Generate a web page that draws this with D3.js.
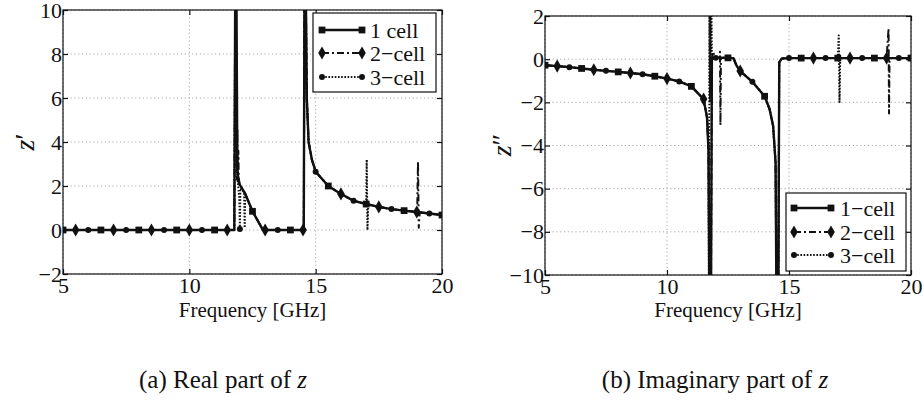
<!DOCTYPE html>
<html><head><meta charset="utf-8">
<script src="https://cdn.jsdelivr.net/npm/d3@7"></script>
<style>body{margin:0;background:#fff}svg{display:block}text{font-family:'Liberation Serif','Times New Roman',serif}</style>
</head><body><svg id="c" width="924" height="400"></svg>
<script>
// ---------- data ----------
const xTicks = [5, 10, 15, 20];
const realTicks = [-2, 0, 2, 4, 6, 8, 10];
const imagTicks = [-10, -8, -6, -4, -2, 0, 2];
const legendReal = ["1 cell", "2\u2212cell", "3\u2212cell"];
const legendImag = ["1\u2212cell", "2\u2212cell", "3\u2212cell"];
const xLabel = "Frequency [GHz]";

// real part z'  [frequency GHz, value]
const real1 = [[5,0],[5.5,0],[6,0],[6.5,0],[7,0],[7.5,0],[8,0],[8.5,0],[9,0],[9.5,0],[10,0],[10.5,0],[11,0],[11.5,0],[11.78,0],[11.82,12],[11.86,12],[11.9,2.6],[12,2.05],[12.2,1.68],[12.5,0.85],[12.9,0.03],[13,0],[13.5,0],[14,0],[14.5,0],[14.53,0.15],[14.56,12],[14.6,12],[14.65,6],[14.72,4],[14.85,3.2],[15,2.65],[15.5,2.0],[16,1.64],[16.5,1.33],[17,1.18],[17.5,1.05],[18,0.95],[18.5,0.88],[19,0.82],[19.5,0.75],[20,0.68]];
const real2 = [[5,0],[5.5,0],[6,0],[6.5,0],[7,0],[7.5,0],[8,0],[8.5,0],[9,0],[9.5,0],[10,0],[10.5,0],[11,0],[11.5,0],[11.78,0],[11.82,12],[11.86,4.9],[11.88,2.3],[11.9,4.6],[11.92,2.2],[11.94,3.6],[11.96,2.1],[12,2.05],[12.2,1.68],[12.5,0.85],[12.9,0.03],[13,0],[13.5,0],[14,0],[14.5,0],[14.53,0.15],[14.56,12],[14.6,12],[14.65,6],[14.72,4],[14.85,3.2],[15,2.65],[15.5,2.0],[16,1.64],[16.5,1.33],[17,1.18],[17.5,1.05],[18,0.95],[18.5,0.88],[19,0.82],[19.02,1.0],[19.05,3.1],[19.08,0.1],[19.11,0.7],[19.15,0.8],[19.5,0.75],[20,0.68]];
const real3 = [[5,0],[5.5,0],[6,0],[6.5,0],[7,0],[7.5,0],[8,0],[8.5,0],[9,0],[9.5,0],[10,0],[10.5,0],[11,0],[11.5,0],[11.78,0],[11.82,12],[11.86,3.0],[11.92,2.2],[11.98,1.4],[12,0.05],[12.02,1.9],[12.1,1.8],[12.17,1.7],[12.19,0.1],[12.21,1.62],[12.5,0.85],[12.9,0.03],[13,0],[13.5,0],[14,0],[14.5,0],[14.53,0.15],[14.56,12],[14.6,12],[14.65,6],[14.72,4],[14.85,3.2],[15,2.65],[15.5,2.0],[16,1.64],[16.5,1.33],[17,1.18],[17.02,3.2],[17.05,0],[17.08,1.15],[17.5,1.05],[18,0.95],[18.5,0.88],[19,0.82],[19.5,0.75],[20,0.68]];

// imaginary part z''
const imag1 = [[5,-0.28],[5.5,-0.32],[6,-0.37],[6.5,-0.43],[7,-0.49],[7.5,-0.54],[8,-0.59],[8.5,-0.64],[9,-0.7],[9.5,-0.79],[10,-0.9],[10.5,-1.03],[11,-1.26],[11.5,-1.85],[11.64,-2.7],[11.7,-4.2],[11.74,-12],[11.8,-12],[11.84,0.03],[12,0.06],[12.5,0.06],[12.72,0.05],[12.85,-0.3],[13,-0.55],[13.5,-1.05],[14,-1.72],[14.2,-2.3],[14.35,-3.1],[14.45,-4.8],[14.49,-12],[14.56,-12],[14.6,-0.15],[14.7,0.03],[15,0.05],[15.5,0.05],[16,0.05],[16.5,0.05],[17,0.05],[17.5,0.05],[18,0.05],[18.5,0.05],[19,0.05],[19.5,0.05],[20,0.05]];
const imag2 = [[5,-0.28],[5.5,-0.32],[6,-0.37],[6.5,-0.43],[7,-0.49],[7.5,-0.54],[8,-0.59],[8.5,-0.64],[9,-0.7],[9.5,-0.79],[10,-0.9],[10.5,-1.03],[11,-1.26],[11.5,-1.85],[11.64,-2.7],[11.7,-4.2],[11.74,-12],[11.8,-12],[11.84,0.03],[11.9,0.35],[11.95,0.05],[12,0.06],[12.15,0.06],[12.17,0.34],[12.19,-3.06],[12.21,0.06],[12.5,0.06],[12.72,0.05],[12.85,-0.3],[13,-0.55],[13.5,-1.05],[14,-1.72],[14.2,-2.3],[14.35,-3.1],[14.45,-4.8],[14.49,-12],[14.56,-12],[14.6,-0.15],[14.7,0.03],[15,0.05],[15.5,0.05],[16,0.05],[16.5,0.05],[17,0.05],[17.5,0.05],[18,0.05],[18.5,0.05],[19,0.05],[19.08,1.42],[19.1,-2.52],[19.12,0.05],[19.5,0.05],[20,0.05]];
const imag3 = [[5,-0.28],[5.5,-0.32],[6,-0.37],[6.5,-0.43],[7,-0.49],[7.5,-0.54],[8,-0.59],[8.5,-0.64],[9,-0.7],[9.5,-0.79],[10,-0.9],[10.5,-1.03],[11,-1.26],[11.5,-1.85],[11.64,-2.7],[11.7,-4.2],[11.72,-12],[11.74,2.6],[11.76,-2.0],[11.78,2.6],[11.8,-1.5],[11.82,2.6],[11.84,0.03],[12,0.06],[12.5,0.06],[12.72,0.05],[12.85,-0.3],[13,-0.55],[13.5,-1.05],[14,-1.72],[14.2,-2.3],[14.35,-3.1],[14.45,-4.8],[14.49,-12],[14.56,-12],[14.6,-0.15],[14.7,0.03],[15,0.05],[15.5,0.05],[16,0.05],[16.5,0.05],[17,0.05],[17.04,1.1],[17.07,-1.98],[17.1,0.05],[17.5,0.05],[18,0.05],[18.5,0.05],[19,0.05],[19.5,0.05],[20,0.05]];

// ---------- drawing ----------
const FONT = "'Liberation Serif','Times New Roman',serif";
const INK = "#111";
const svg = d3.select("#c");
const styles = [
  {w: 2.4, dash: null, sym: d3.symbolSquare, size: 46, phase: 1},
  {w: 2.0, dash: "7,3,2,3", sym: d3.symbolDiamond, size: 50, phase: 2},
  {w: 2.0, dash: "1.6,1.6", sym: d3.symbolCircle, size: 28, phase: 0}
];
function isMarker(f, i) {
  const k = f * 2, r = Math.round(k);
  return Math.abs(k - r) < 1e-6 && (r % 3) === styles[i].phase;
}
function markers(g, pts, i) {
  const s = styles[i];
  g.append("g").selectAll("path").data(pts).join("path")
    .attr("transform", d => `translate(${d[0]},${d[1]})`)
    .attr("d", d3.symbol().type(s.sym).size(s.size)())
    .attr("fill", INK);
}

function panel(p) {
  const x = d3.scaleLinear().domain([5, 20]).range([p.l, p.r]);
  const y = d3.scaleLinear().domain(p.yd).range([p.b, p.t]);
  const g = svg.append("g");
  svg.append("clipPath").attr("id", "clip" + p.id).append("rect")
    .attr("x", p.l).attr("y", p.t).attr("width", p.r - p.l).attr("height", p.b - p.t);

  const grid = g.append("g").attr("stroke", "#a8a8a8").attr("stroke-width", 1).attr("stroke-dasharray", "1.2,2.6");
  grid.selectAll("line.gx").data(xTicks).join("line").attr("class", "gx")
    .attr("x1", d => x(d)).attr("x2", d => x(d)).attr("y1", p.t).attr("y2", p.b);
  grid.selectAll("line.gy").data(p.yt).join("line").attr("class", "gy")
    .attr("y1", d => y(d)).attr("y2", d => y(d)).attr("x1", p.l).attr("x2", p.r);

  const plot = g.append("g").attr("clip-path", `url(#clip${p.id})`);
  p.series.forEach((s, i) => {
    const st = styles[i];
    plot.append("path").datum(s)
      .attr("d", d3.line().x(d => x(d[0])).y(d => y(d[1])))
      .attr("fill", "none").attr("stroke", INK).attr("stroke-width", st.w)
      .attr("stroke-linejoin", "round")
      .attr("stroke-dasharray", st.dash);
    markers(plot, s.filter(d => isMarker(d[0], i)).map(d => [x(d[0]), y(d[1])]), i);
  });

  g.append("rect").attr("x", p.l).attr("y", p.t).attr("width", p.r - p.l).attr("height", p.b - p.t)
    .attr("fill", "none").attr("stroke", INK).attr("stroke-width", 1.2);

  const fmt = d3.format("d");
  const style = sel => {
    sel.select(".domain").remove();
    sel.selectAll("line").attr("stroke", INK).attr("stroke-width", 1.2);
    sel.selectAll("text").style("font-family", FONT).attr("font-size", 22).attr("fill", INK);
  };
  g.append("g").attr("transform", `translate(0,${p.b})`)
    .call(d3.axisBottom(x).tickValues(xTicks).tickSize(-5).tickPadding(3).tickFormat(fmt)).call(style);
  g.append("g").attr("transform", `translate(0,${p.t})`)
    .call(d3.axisTop(x).tickValues(xTicks).tickSize(-5).tickFormat("")).call(style);
  g.append("g").attr("transform", `translate(${p.l},0)`)
    .call(d3.axisLeft(y).tickValues(p.yt).tickSize(-5).tickPadding(1).tickFormat(fmt)).call(style);
  g.append("g").attr("transform", `translate(${p.r},0)`)
    .call(d3.axisRight(y).tickValues(p.yt).tickSize(-5).tickFormat("")).call(style);

  // axis labels
  g.append("text").attr("x", (p.l + p.r) / 2).attr("y", 317).attr("text-anchor", "middle")
    .style("font-family", FONT).attr("font-size", 21).attr("fill", INK).text(xLabel);
  const yl = g.append("text").attr("transform", `translate(${p.ylx},${p.yly}) rotate(-90)`)
    .attr("text-anchor", "middle").attr("dominant-baseline", "central")
    .style("font-family", FONT).attr("font-size", 28).attr("fill", INK);
  yl.append("tspan").attr("font-style", "italic").text("z");
  yl.append("tspan").text(p.prime);

  // legend
  const L = p.leg;
  const lg = g.append("g");
  lg.append("rect").attr("x", L.x).attr("y", L.y).attr("width", L.w).attr("height", L.h)
    .attr("fill", "#fff").attr("stroke", INK).attr("stroke-width", 1.2);
  p.legendText.forEach((t, i) => {
    const st = styles[i], yy = L.rows[i];
    lg.append("line").attr("x1", L.s0).attr("x2", L.s1).attr("y1", yy).attr("y2", yy)
      .attr("stroke", INK).attr("stroke-width", st.w).attr("stroke-dasharray", st.dash);
    markers(lg, [[L.s0, yy], [L.s1, yy]], i);
    lg.append("text").attr("x", L.tx).attr("y", yy).attr("dominant-baseline", "central")
      .style("font-family", FONT).attr("font-size", 22).attr("fill", INK).text(t);
  });

  // caption
  const cap = g.append("text").attr("x", p.capx).attr("y", 388).attr("text-anchor", "middle")
    .style("font-family", FONT).attr("font-size", 25).attr("fill", INK);
  cap.append("tspan").text(p.caption);
  cap.append("tspan").attr("font-style", "italic").text("z");
}

panel({id: "a", l: 63, r: 442, t: 10, b: 274, yd: [-2, 10], yt: realTicks,
  series: [real1, real2, real3], legendText: legendReal, prime: "\u2032", ylx: 24, yly: 142,
  leg: {x: 313, y: 13, w: 123, h: 79, rows: [30, 53, 77], s0: 322, s1: 362, tx: 370},
  caption: "(a) Real part of ", capx: 223});
panel({id: "b", l: 545, r: 911, t: 16, b: 275, yd: [-10, 2], yt: imagTicks,
  series: [imag1, imag2, imag3], legendText: legendImag, prime: "\u2033", ylx: 501, yly: 145,
  leg: {x: 786, y: 193, w: 120, h: 78, rows: [208, 232, 255], s0: 794, s1: 831, tx: 840},
  caption: "(b) Imaginary part of ", capx: 715});
</script>
</body></html>
